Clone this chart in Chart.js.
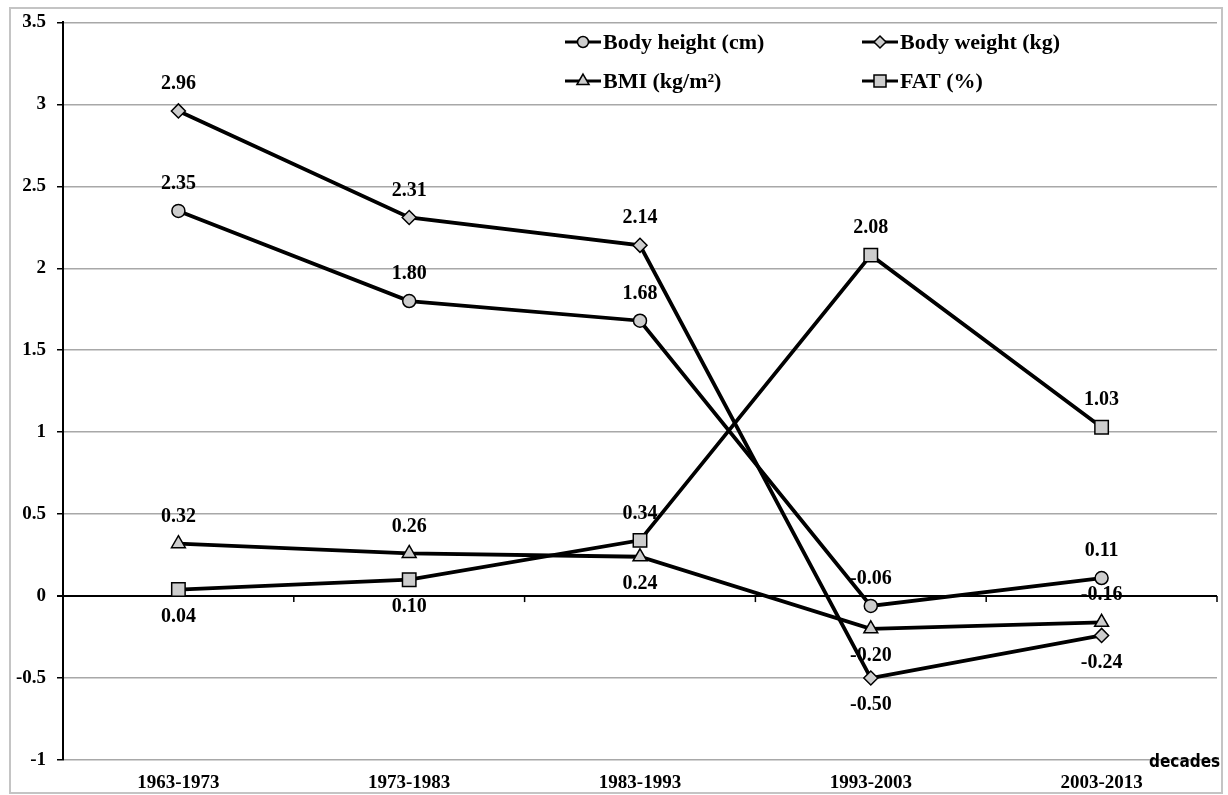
<!DOCTYPE html>
<html>
<head>
<meta charset="utf-8">
<script src="https://cdn.jsdelivr.net/npm/chart.js@4.4.0/dist/chart.umd.min.js"></script>
<style>
  html, body { margin: 0; padding: 0; background: #fff; }
  #wrap { width: 1228px; height: 795px; position: relative; }
</style>
</head>
<body>
<div id="wrap"><canvas id="myChart" width="1228" height="795"></canvas></div>
<script>
const decades = ["1963-1973", "1973-1983", "1983-1993", "1993-2003", "2003-2013"];

const bodyHeight = [2.35, 1.80, 1.68, -0.06, 0.11];
const bodyWeight = [2.96, 2.31, 2.14, -0.50, -0.24];
const bmi = [0.32, 0.26, 0.24, -0.20, -0.16];
const fat = [0.04, 0.10, 0.34, 2.08, 1.03];

// where each value label sits: 1 = above the point, -1 = below
const labelSide = [
  [1, 1, 1, 1, 1],
  [1, 1, 1, -1, -1],
  [1, 1, -1, -1, 1],
  [-1, -1, 1, 1, 1],
];

const serif = "'Liberation Serif', 'Times New Roman', serif";
const grey = "#cdcdcd";

const makeSet = (label, data, style, radius) => ({
  label,
  data,
  borderColor: "#000",
  borderWidth: 3.8,
  pointStyle: style,
  pointRadius: radius,
  pointBackgroundColor: grey,
  pointBorderColor: "#000",
  pointBorderWidth: 1.5,
  tension: 0,
});

const frameAndTicks = {
  id: "frameAndTicks",
  beforeDraw(chart) {
    const ctx = chart.ctx;
    ctx.save();
    ctx.fillStyle = "#fff";
    ctx.fillRect(0, 0, chart.width, chart.height);
    ctx.strokeStyle = "#c4c4c4";
    ctx.lineWidth = 2;
    ctx.strokeRect(10, 8, 1212, 785);
    ctx.restore();
  },
  beforeDatasetsDraw(chart) {
    const ctx = chart.ctx;
    const x = chart.scales.x;
    const y0 = chart.scales.y.getPixelForValue(0);
    const half = (x.getPixelForValue(1) - x.getPixelForValue(0)) / 2;
    ctx.save();
    ctx.strokeStyle = "#000";
    ctx.lineWidth = 1.5;
    for (let i = 0; i < decades.length; i++) {
      const px = x.getPixelForValue(i) + half;
      ctx.beginPath();
      ctx.moveTo(px, y0);
      ctx.lineTo(px, y0 + 6);
      ctx.stroke();
    }
    ctx.restore();
  },
};

const valueLabels = {
  id: "valueLabels",
  afterDatasetsDraw(chart) {
    const ctx = chart.ctx;
    ctx.save();
    ctx.font = "bold 20px " + serif;
    ctx.fillStyle = "#000";
    ctx.textAlign = "center";
    ctx.textBaseline = "middle";
    chart.data.datasets.forEach((ds, d) => {
      const meta = chart.getDatasetMeta(d);
      meta.data.forEach((pt, i) => {
        ctx.fillText(ds.data[i].toFixed(2), pt.x, pt.y - 27 * labelSide[d][i]);
      });
    });
    ctx.restore();
  },
};

const insideLegend = {
  id: "insideLegend",
  afterDraw(chart) {
    const ctx = chart.ctx;
    const spots = [[565, 42], [862, 42], [565, 81], [862, 81]];
    ctx.save();
    chart.data.datasets.forEach((ds, d) => {
      const [lx, ly] = spots[d];
      ctx.strokeStyle = "#000";
      ctx.lineWidth = 3;
      ctx.beginPath();
      ctx.moveTo(lx, ly);
      ctx.lineTo(lx + 36, ly);
      ctx.stroke();
      ctx.fillStyle = grey;
      ctx.lineWidth = 1.5;
      Chart.helpers.drawPoint(ctx, {
        pointStyle: ds.pointStyle,
        radius: ds.pointRadius - 1,
        borderWidth: 1.5,
        rotation: 0,
      }, lx + 18, ly);
      ctx.fillStyle = "#000";
      ctx.font = "bold 22px " + serif;
      ctx.textAlign = "left";
      ctx.textBaseline = "middle";
      ctx.fillText(ds.label, lx + 38, ly + 1);
    });
    ctx.font = "bold 17px 'Liberation Sans Narrow', 'DejaVu Sans Condensed', sans-serif";
    ctx.textAlign = "left";
    ctx.fillText("decades", 1149, 763);
    ctx.restore();
  },
};

new Chart(document.getElementById("myChart"), {
  type: "line",
  data: {
    labels: decades,
    datasets: [
      makeSet("Body height (cm)", bodyHeight, "circle", 6.5),
      makeSet("Body weight (kg)", bodyWeight, "rectRot", 7),
      makeSet("BMI (kg/m²)", bmi, "triangle", 8),
      makeSet("FAT (%)", fat, "rect", 9.5),
    ],
  },
  options: {
    responsive: false,
    animation: false,
    events: [],
    layout: { padding: { top: 19, right: 11, left: 0, bottom: 0 } },
    plugins: {
      legend: { display: false },
      tooltip: { enabled: false },
    },
    scales: {
      x: {
        offset: true,
        grid: { display: false, drawTicks: false },
        border: { display: false },
        ticks: {
          color: "#000",
          padding: 12,
          maxRotation: 0,
          font: { family: serif, size: 19, weight: "bold" },
        },
        afterFit(scale) { scale.height = 35; },
      },
      y: {
        min: -1,
        max: 3.5,
        grid: {
          color: (c) => (c.tick && c.tick.value === 0 ? "#000" : "#a8a8a8"),
          lineWidth: (c) => (c.tick && c.tick.value === 0 ? 2 : 1.5),
          tickColor: "#000",
          tickLength: 6,
        },
        border: { color: "#000", width: 2 },
        ticks: {
          stepSize: 0.5,
          color: "#000",
          padding: 11,
          font: { family: serif, size: 19, weight: "bold" },
          callback: (v) => String(v),
        },
        afterFit(scale) { scale.width = 63; },
      },
    },
  },
  plugins: [frameAndTicks, valueLabels, insideLegend],
});
</script>
</body>
</html>
